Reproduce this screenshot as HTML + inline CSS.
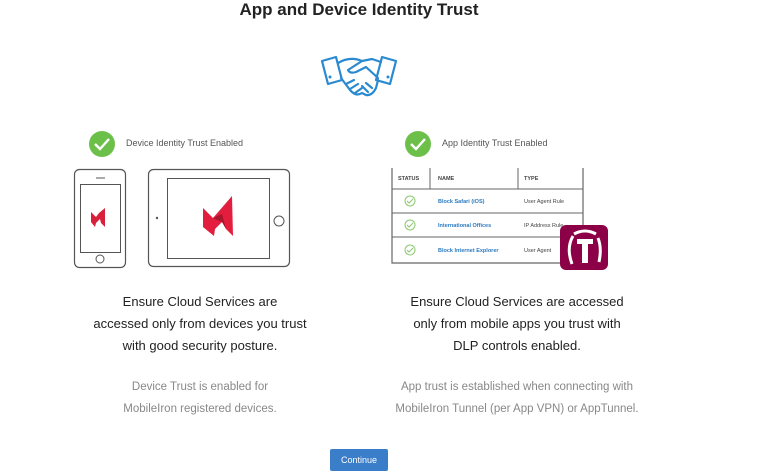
<!DOCTYPE html>
<html><head><meta charset="utf-8"><style>
body{margin:0;width:758px;height:472px;background:#fff;position:relative;overflow:hidden;font-family:"Liberation Sans",Arial,sans-serif}
.a{position:absolute}
.t{position:absolute;text-align:center;white-space:nowrap}
</style></head><body>
<div class="t" style="left:0;width:718px;top:0;font-size:17px;font-weight:bold;color:#222;line-height:20px">App and Device Identity Trust</div>

<svg class="a" style="left:0;top:0" width="758" height="472">
<g fill="none" stroke="#2a8ad0" stroke-width="2.2" stroke-linejoin="round" stroke-linecap="round">
<path d="M322 61 L336 57 L342 80 L328 84 Z"/>
<path d="M396 61 L382 57 L376 80 L390 84 Z"/>
<path d="M338 63 Q350 56 362 61 L372 59 L381 62"/>
<path d="M362 61 L348 70 Q350 74 356 72 L366 67 L378 78"/>
<path d="M341 78 L350 90 Q356 97 362 93 L366 95 Q372 96 376 88 L378 80"/>
<path d="M346 84 L354 80 M350 89 L358 84 M355 93 L362 88"/>
<path d="M366 83 L372 88 M362 86 L368 92"/>
</g>
<circle cx="330" cy="77" r="1.5" fill="#2a8ad0"/><circle cx="388" cy="77" r="1.5" fill="#2a8ad0"/>

<circle cx="102" cy="144" r="13" fill="#6cc04a"/>
<path d="M95 144 L100 149 L109 139" fill="none" stroke="#fff" stroke-width="2.4"/>
<rect x="74.5" y="169.5" width="51" height="98" rx="5" fill="none" stroke="#555" stroke-width="1.2"/>
<rect x="80.5" y="184.5" width="40" height="68" fill="none" stroke="#555" stroke-width="1"/>
<line x1="96" y1="178" x2="105" y2="178" stroke="#555" stroke-width="1"/>
<circle cx="100" cy="259" r="4" fill="none" stroke="#555" stroke-width="1"/>
<path d="M91 212 L96 217 L99 213 L105 208 L105 227 L101 223 L100 219 L96 223 L95 227 L91 222 Z" fill="#d8203c"/>
<rect x="148.5" y="169.5" width="141" height="97" rx="5" fill="none" stroke="#555" stroke-width="1.2"/>
<rect x="167.5" y="178.5" width="102" height="80" fill="none" stroke="#555" stroke-width="1"/>
<circle cx="157" cy="218" r="1.2" fill="#555"/>
<circle cx="279" cy="221" r="5" fill="none" stroke="#555" stroke-width="1"/>
<path d="M203 208 L213 218 L232 196 L233 236 L226 229 L222 222 L215 229 L214 236 L203 227 Z" fill="#e21d3d"/>
<path d="M213 218 L222 222 L226 229 L222 214 Z" fill="#a8152c"/>

<circle cx="418" cy="144" r="13" fill="#6cc04a"/>
<path d="M411 144 L416 149 L425 139" fill="none" stroke="#fff" stroke-width="2.4"/>
<g stroke="#666" fill="none">
<path d="M392 168 L392 263 L583 263 L583 168" stroke-width="1.2"/>
<line x1="392" y1="189" x2="583" y2="189"/>
<line x1="392" y1="213" x2="583" y2="213"/>
<line x1="392" y1="237" x2="583" y2="237"/>
<line x1="430" y1="168" x2="430" y2="189"/>
<line x1="518" y1="168" x2="518" y2="189"/>
</g>
<g fill="none" stroke="#8cc870" stroke-width="1">
<circle cx="410" cy="201" r="5"/><path d="M407 201 L409 203 L413 199"/>
<circle cx="410" cy="225" r="5"/><path d="M407 225 L409 227 L413 223"/>
<circle cx="410" cy="250" r="5"/><path d="M407 250 L409 252 L413 248"/>
</g>
<g font-family="Liberation Sans,Arial,sans-serif" font-size="5.5">
<text x="398" y="180" fill="#444" font-weight="bold">STATUS</text>
<text x="438" y="180" fill="#444" font-weight="bold">NAME</text>
<text x="524" y="180" fill="#444" font-weight="bold">TYPE</text>
<text x="438" y="203" fill="#2a7ac0" font-weight="bold">Block Safari (iOS)</text>
<text x="438" y="227" fill="#2a7ac0" font-weight="bold">International Offices</text>
<text x="438" y="252" fill="#2a7ac0" font-weight="bold">Block Internet Explorer</text>
<text x="524" y="203" fill="#444">User Agent Rule</text>
<text x="524" y="227" fill="#444">IP Address Rule</text>
<text x="524" y="252" fill="#444">User Agent</text>
</g>
<rect x="560" y="225" width="48" height="45" rx="6" fill="#8b0046"/>
<path d="M572 264 Q566 248 573 236" fill="none" stroke="#fff" stroke-width="3"/>
<path d="M574 234 Q585 228 596 234" fill="none" stroke="#fff" stroke-width="3"/>
<rect x="577" y="239" width="16" height="5" fill="#fff"/>
<rect x="582" y="239" width="6" height="24" fill="#fff"/>
<path d="M598 238 Q602 248 599 262" fill="none" stroke="#fff" stroke-width="3"/>
</svg>

<div class="t" style="left:126px;top:138px;font-size:9px;color:#555">Device Identity Trust Enabled</div>
<div class="t" style="left:442px;top:138px;font-size:9px;color:#555">App Identity Trust Enabled</div>

<div class="t" style="left:0px;width:400px;top:291px;font-size:13px;line-height:22px;color:#222">Ensure Cloud Services are<br>accessed only from devices you trust<br>with good security posture.</div>
<div class="t" style="left:317px;width:400px;top:291px;font-size:13px;line-height:22px;color:#222">Ensure Cloud Services are accessed<br>only from mobile apps you trust with<br>DLP controls enabled.</div>

<div class="t" style="left:0px;width:400px;top:376px;font-size:11.5px;line-height:22px;color:#888">Device Trust is enabled for<br>MobileIron registered devices.</div>
<div class="t" style="left:317px;width:400px;top:376px;font-size:11.5px;line-height:22px;color:#888">App trust is established when connecting with<br>MobileIron Tunnel (per App VPN) or AppTunnel.</div>

<div class="a" style="left:330px;top:449px;width:58px;height:22px;background:#3a7dc9;border-radius:2px;color:#fff;font-size:9px;text-align:center;line-height:22px">Continue</div>
</body></html>
